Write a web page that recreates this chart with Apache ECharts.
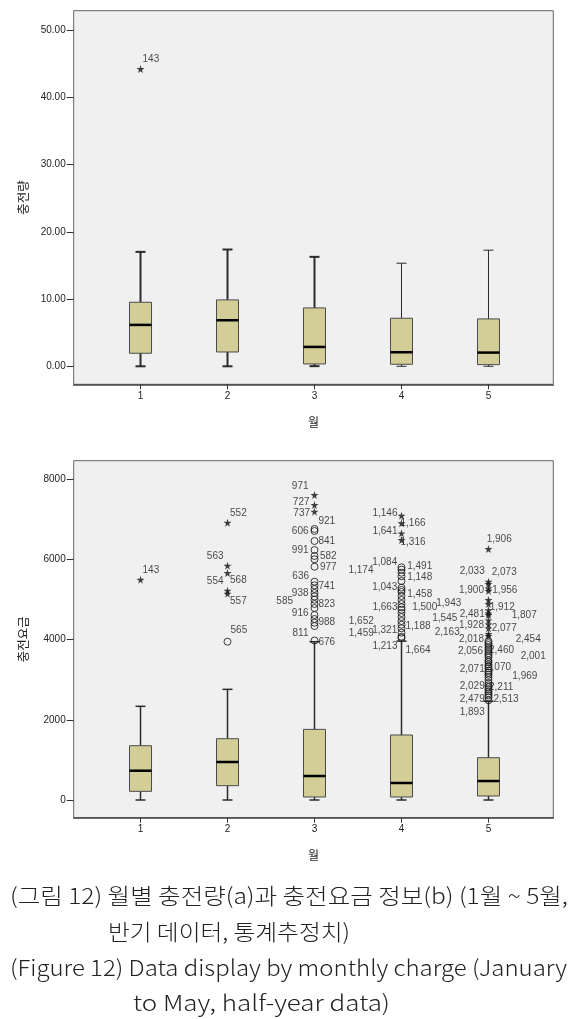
<!DOCTYPE html>
<html><head><meta charset="utf-8">
<script src="https://cdn.jsdelivr.net/npm/echarts@6/dist/echarts.min.js"></script>
<style>html,body{margin:0;padding:0;background:#fff;}#c{width:585px;height:1019px;}</style>
</head><body><div id="c"></div>
<script>
// ---------- shared ----------
const months = [1, 2, 3, 4, 5];
const monthTickLabels = ['1', '2', '3', '4', '5'];
const xAxisTitle = '월';

// ---------- (a) 충전량 ----------
const amountTitle = '충전량';
const amountTicks = [0, 10, 20, 30, 40, 50];
const amountLow = [0, 0, 0.02, 0, 0];
const amountQ1 = [1.94, 2.13, 0.35, 0.30, 0.25];
const amountMedian = [6.16, 6.85, 2.88, 2.09, 2.04];
const amountQ3 = [9.53, 9.88, 8.69, 7.15, 7.05];
const amountHigh = [17.03, 17.38, 16.29, 15.34, 17.28];
const amountOutlierMonth = [1];
const amountOutlierValue = [44.24];
const amountOutlierId = ['143'];
const amountOutlierType = ['*'];

// ---------- (b) 충전요금 ----------
const feeTitle = '충전요금';
const feeTicks = [0, 2000, 4000, 6000, 8000];
const feeLow = [0, 0, 0, 0, 0];
const feeQ1 = [216, 357, 75, 75, 100];
const feeMedian = [730, 947, 598, 424, 473];
const feeQ3 = [1353, 1528, 1760, 1620, 1054];
const feeHigh = [2335, 2758, 3945, 3960, 2460];

const feeOutlierMonth = [
  1,
  2, 2, 2, 2, 2, 2,
  3, 3, 3, 3, 3, 3, 3, 3, 3, 3, 3, 3, 3, 3, 3, 3, 3, 3, 3, 3, 3, 3, 3,
  4, 4, 4, 4, 4, 4, 4, 4, 4, 4, 4, 4, 4, 4, 4, 4, 4, 4, 4, 4, 4, 4, 4, 4, 4,
  5, 5, 5, 5, 5, 5, 5, 5, 5, 5, 5, 5, 5, 5, 5, 5, 5, 5, 5, 5, 5, 5, 5, 5, 5, 5,
  5, 5, 5, 5, 5, 5, 5, 5, 5, 5, 5, 5, 5, 5, 5, 5, 5
];
const feeOutlierValue = [
  5490,
  6910, 5840, 5657, 5216, 5142, 3945,
  7601, 7352, 7185, 6754, 6704, 6455, 6231, 6081, 5999, 5814, 5441, 5351, 5259, 5159, 5072, 4992, 4885, 4785, 4611, 4511, 4419, 4336, 3975,
  7085, 6896, 6646, 6480, 5799, 5740, 5665, 5575, 5458, 5291, 5234, 5184, 5084, 4984, 4885, 4802, 4742, 4660, 4561, 4461, 4369, 4279, 4170, 4070, 4037,
  6255, 5440, 5383, 5276, 5215, 4985, 4885, 4728, 4653, 4611, 4478, 4378, 4279, 4137, 4087, 3863, 3813, 3713, 3482, 3439, 3223, 2991, 2916, 2609, 2560, 2485,
  3960, 3910, 3760, 3660, 3610, 3560, 3380, 3330, 3280, 3170, 3120, 3060, 2860, 2810, 2760, 2710, 2660
];
const feeOutlierId = [
  '143',
  '552', '563', '554', '568', '557', '565',
  '971', '727', '737', '921', '606', '841', '991', '582', '', '977', '636', '741', '', '938', '', '585', '823', '', '916', '', '988', '811', '676',
  '1,146', '1,166', '1,641', '1,316', '1,084', '1,491', '1,174', '1,148', '', '1,043', '', '1,458', '', '', '', '1,663', '1,500', '', '', '1,652', '1,188', '1,321', '1,459', '1,213', '1,664',
  '1,906', '2,033', '2,073', '1,900', '1,956', '1,943', '1,912', '2,481', '1,545', '1,807', '1,928', '2,077', '2,163', '2,018', '2,454', '2,056', '2,460', '2,001', '2,071', '2,070', '1,969', '2,029', '2,211', '2,479', '2,513', '1,893',
  '', '', '', '', '', '', '', '', '', '', '', '', '', '', '', '', ''
];
const feeOutlierType = [
  '*',
  '*', '*', '*', '*', '*', 'o',
  '*', '*', '*', 'o', 'o', 'o', 'o', 'o', 'o', 'o', 'o', 'o', 'o', 'o', 'o', 'o', 'o', 'o', 'o', 'o', 'o', 'o', 'o',
  '*', '*', '*', '*', 'o', 'o', 'o', 'o', 'o', 'o', 'o', 'o', 'o', 'o', 'o', 'o', 'o', 'o', 'o', 'o', 'o', 'o', 'o', 'o', 'o',
  '*', '*', '*', '*', '*', '*', '*', '*', '*', '*', '*', '*', '*', '*', '*', 'o', 'o', 'o', 'o', 'o', 'o', 'o', 'o', 'o', 'o', 'o',
  'o', 'o', 'o', 'o', 'o', 'o', 'o', 'o', 'o', 'o', 'o', 'o', 'o', 'o', 'o', 'o', 'o'
];

// ---------- layout only: label placement [side(-1 left / 1 right), extra px, dy px] ----------
const amountLabelPlace = [[1, -4, -10]];
const feeLabelPlace = [
  [1, -4, -9],
  [1, -3.5, -9], [-1, -2, -9], [-1, -2, 8], [1, -3.5, -10], [1, -3.5, 8], [1, -3, -11],
  [-1, 0, -9], [-1, -1, -3], [-1, -1.5, 2], [1, -2, -8], [-1, 0, 0], [1, -2, 0], [-1, 0, 0], [1, -0.5, 0], null, [1, -0.5, 1], [-1, -0.5, -5], [1, -2, 1], null, [-1, 0, 0], null, [-1, 15.5, 2], [1, -2, 0], null, [-1, 0, -2], null, [1, -2, 0], [-1, 0, 7], [1, -2, 2],
  [-1, -2, -2], [1, -7, 0], [-1, -2, -2], [1, -7, 2], [-1, -1.7, -5], [1, -0.3, -3], [-1, 22, -2], [1, -0.3, 1], null, [-1, -1.7, 0], null, [1, -0.3, 2], null, null, null, [-1, -2, 0], [1, 4.7, -2], null, null, [-1, 21.7, 0], [1, -2, 2], [-1, -1.7, 2], [-1, 21.7, 1], [-1, -2, 10], [1, -2, 12],
  [1, -7.8, -10], [-1, -2.2, -10], [1, -2.8, -12], [-1, -1.5, 2], [1, -2.2, 0], [-1, 21.2, 3], [1, -4.8, 3], [-1, -2.2, 4], [-1, 25.2, 5], [1, 17.2, 0], [-1, -1.5, 5], [1, -2.8, 4], [-1, 22.8, 4], [-1, -1.5, 5], [1, 21.2, 3], [-1, -0.5, 6], [1, -5.5, 3], [1, 26.2, 5], [-1, -2.2, 9], [1, -8.5, 5], [1, 17.8, 6], [-1, -2.2, 6], [1, -5.5, 4], [-1, -2.2, 4], [1, -1, 2], [-1, -2.2, 12]
];

const STAR = 'path://M50,0 L61,35 L98,35 L68,57 L79,91 L50,70 L21,91 L32,57 L2,35 L39,35 Z';
const BOX_W = 0.253, CAP_W = 0.115;
const X_MIN = 0.232, X_MAX = 5.745;
const LABEL_FONT = 'Liberation Sans, Arial, sans-serif';

function boxData(low, q1, med, q3, high) {
  return months.map((m, i) => [m, low[i], q1[i], med[i], q3[i], high[i]]);
}
function boxRenderer(whiskerWidths) {
  return function (params, api) {
    const m = api.value(0);
    const pLow = api.coord([m, api.value(1)]);
    const pQ1 = api.coord([m, api.value(2)]);
    const pMed = api.coord([m, api.value(3)]);
    const pQ3 = api.coord([m, api.value(4)]);
    const pHigh = api.coord([m, api.value(5)]);
    const bw = api.size([BOX_W, 0])[0];
    const cw = api.size([CAP_W, 0])[0];
    const cx = pMed[0];
    const ww = whiskerWidths[params.dataIndex];
    const ws = { stroke: '#2b2b2b', lineWidth: ww };
    return {
      type: 'group',
      children: [
        { type: 'line', shape: { x1: cx, y1: pHigh[1], x2: cx, y2: pQ3[1] }, style: ws },
        { type: 'line', shape: { x1: cx, y1: pQ1[1], x2: cx, y2: pLow[1] }, style: ws },
        { type: 'line', shape: { x1: cx - cw / 2, y1: pHigh[1], x2: cx + cw / 2, y2: pHigh[1] }, style: ws },
        { type: 'line', shape: { x1: cx - cw / 2, y1: pLow[1], x2: cx + cw / 2, y2: pLow[1] }, style: ws },
        { type: 'rect', shape: { x: cx - bw / 2, y: pQ3[1], width: bw, height: pQ1[1] - pQ3[1] },
          style: { fill: '#D3CE98', stroke: '#4a4a4a', lineWidth: 1 } },
        { type: 'line', shape: { x1: cx - bw / 2, y1: pMed[1], x2: cx + bw / 2, y2: pMed[1] },
          style: { stroke: '#000', lineWidth: 2.5 } }
      ]
    };
  };
}
function outlierData(mArr, vArr, idArr, tArr, place) {
  return mArr.map((m, i) => {
    const p = place[i];
    const item = {
      value: [m, vArr[i]],
      name: idArr[i],
      symbol: tArr[i] === '*' ? STAR : 'circle',
      symbolSize: tArr[i] === '*' ? 8 : 7,
      itemStyle: tArr[i] === '*'
        ? { color: '#111', borderWidth: 0 }
        : { color: 'rgba(0,0,0,0)', borderColor: '#111', borderWidth: 1 }
    };
    if (idArr[i] && p) {
      item.label = {
        show: true,
        formatter: idArr[i],
        position: p[0] > 0 ? 'right' : 'left',
        distance: 2,
        offset: [p[0] * p[1], p[2]],
        fontSize: 10,
        fontFamily: LABEL_FONT,
        color: '#1a1a1a'
      };
    } else {
      item.label = { show: false };
    }
    return item;
  });
}
function yAxisCfg(gridIndex, min, max, ticks, fmt, name, gap) {
  return {
    type: 'value', gridIndex, min, max,
    axisLine: { show: false },
    axisTick: { show: true, length: 7, customValues: ticks, lineStyle: { color: '#333', width: 1 } },
    axisLabel: { customValues: ticks, formatter: fmt, fontSize: 10, fontFamily: LABEL_FONT, color: '#222', margin: 8 },
    splitLine: { show: false },
    name, nameLocation: 'middle', nameGap: gap, nameRotate: 90,
    nameTextStyle: { fontSize: 12.5, fontFamily: 'Noto Sans CJK KR', color: '#222' }
  };
}
function xAxisCfg(gridIndex, gap) {
  return {
    type: 'value', gridIndex, min: X_MIN, max: X_MAX,
    axisLine: { show: true, onZero: false, lineStyle: { color: '#444', width: 1.5 } },
    axisTick: { show: true, length: 5, customValues: months, lineStyle: { color: '#333' } },
    axisLabel: { customValues: months, formatter: v => monthTickLabels[months.indexOf(v)], fontSize: 10, fontFamily: LABEL_FONT, color: '#222', margin: 7 },
    splitLine: { show: false },
    name: xAxisTitle, nameLocation: 'middle', nameGap: gap,
    nameTextStyle: { fontSize: 12, fontFamily: 'Noto Sans CJK KR', color: '#222' }
  };
}

// ---------- caption ----------
const captionLines = [
  '(그림 12) 월별 충전량(a)과 충전요금 정보(b) (1월 ~ 5월,',
  '반기 데이터, 통계추정치)',
  '(Figure 12) Data display by monthly charge (January',
  'to May, half-year data)'
];
const captionBox = [[10, 896, 558], [108, 932, 242], [10, 968, 557], [133, 1003, 257]];
const CAP_FONT = '300 22px "Noto Sans CJK KR"';
const mctx = document.createElement('canvas').getContext('2d');
mctx.font = CAP_FONT;
const captionGraphics = captionLines.map((t, i) => {
  const w = mctx.measureText(t).width;
  const [x, y, tw] = captionBox[i];
  return {
    type: 'text', x, y, scaleX: tw / w,
    style: { text: t, font: CAP_FONT, fill: '#222', verticalAlign: 'middle', align: 'left' }
  };
});

const chart = echarts.init(document.getElementById('c'));
chart.setOption({
  backgroundColor: '#fff',
  animation: false,
  grid: [
    { left: 73.7, top: 10.7, width: 479.6, height: 373.6, show: true, backgroundColor: '#F0F0F0', borderColor: '#666', borderWidth: 1 },
    { left: 73.7, top: 460.7, width: 479.6, height: 357, show: true, backgroundColor: '#F0F0F0', borderColor: '#666', borderWidth: 1 }
  ],
  xAxis: [xAxisCfg(0, 32), xAxisCfg(1, 32)],
  yAxis: [
    yAxisCfg(0, -2.68, 52.92, amountTicks, v => v.toFixed(2), amountTitle, 44),
    yAxisCfg(1, -441, 8456, feeTicks, v => String(v), feeTitle, 44)
  ],
  series: [
    { type: 'custom', xAxisIndex: 0, yAxisIndex: 0, data: boxData(amountLow, amountQ1, amountMedian, amountQ3, amountHigh),
      encode: { x: 0, y: [1, 2, 3, 4, 5] }, renderItem: boxRenderer([2, 2, 2, 1, 1]), z: 2 },
    { type: 'scatter', xAxisIndex: 0, yAxisIndex: 0, z: 3,
      data: outlierData(amountOutlierMonth, amountOutlierValue, amountOutlierId, amountOutlierType, amountLabelPlace) },
    { type: 'custom', xAxisIndex: 1, yAxisIndex: 1, data: boxData(feeLow, feeQ1, feeMedian, feeQ3, feeHigh),
      encode: { x: 0, y: [1, 2, 3, 4, 5] }, renderItem: boxRenderer([1.5, 1.5, 1.5, 1.5, 1.5]), z: 2 },
    { type: 'scatter', xAxisIndex: 1, yAxisIndex: 1, z: 3,
      data: outlierData(feeOutlierMonth, feeOutlierValue, feeOutlierId, feeOutlierType, feeLabelPlace) }
  ],
  graphic: captionGraphics
});
</script></body></html>
